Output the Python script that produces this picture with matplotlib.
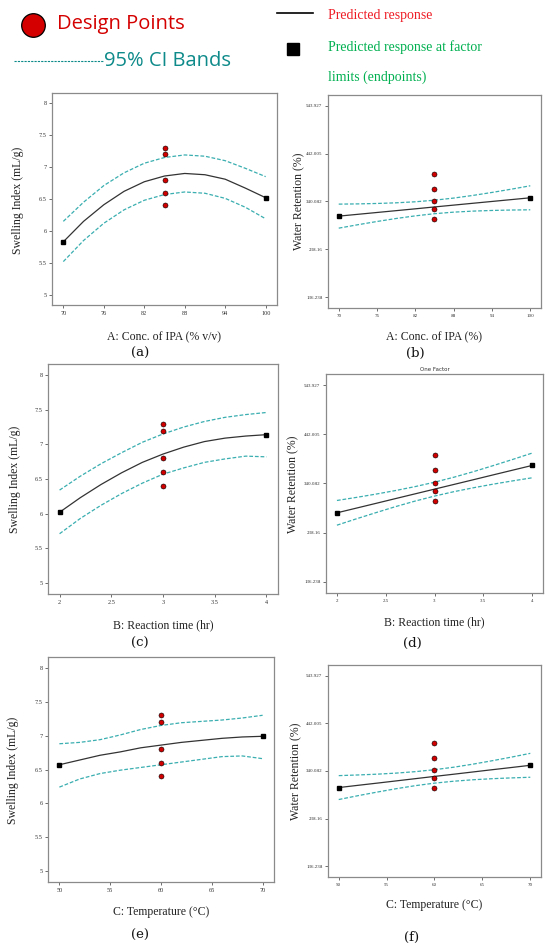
import matplotlib
matplotlib.use("Agg")
import matplotlib.pyplot as plt
from matplotlib.lines import Line2D

W, H = 550, 950

# ---- datos ----
x_ipa = [70, 73, 76, 79, 82, 85, 88, 91, 94, 97, 100]
x_time = [2.0, 2.2, 2.4, 2.6, 2.8, 3.0, 3.2, 3.4, 3.6, 3.8, 4.0]
x_temp = [50, 52, 54, 56, 58, 60, 62, 64, 66, 68, 70]

# Swelling index (mL/g)
sw_ipa_pred = [5.83, 6.15, 6.41, 6.62, 6.77, 6.86, 6.90, 6.88, 6.81, 6.67, 6.52]
sw_ipa_up = [6.15, 6.45, 6.71, 6.91, 7.06, 7.15, 7.19, 7.17, 7.10, 6.98, 6.85]
sw_ipa_lo = [5.52, 5.85, 6.12, 6.33, 6.48, 6.57, 6.61, 6.59, 6.51, 6.37, 6.19]

sw_time_pred = [6.02, 6.23, 6.42, 6.59, 6.74, 6.86, 6.96, 7.04, 7.09, 7.12, 7.14]
sw_time_up = [6.34, 6.54, 6.72, 6.88, 7.03, 7.15, 7.25, 7.33, 7.39, 7.43, 7.46]
sw_time_lo = [5.71, 5.93, 6.12, 6.29, 6.44, 6.57, 6.66, 6.74, 6.79, 6.83, 6.82]

sw_temp_pred = [6.57, 6.64, 6.71, 6.76, 6.82, 6.86, 6.90, 6.93, 6.96, 6.98, 6.99]
sw_temp_up = [6.88, 6.90, 6.94, 7.01, 7.09, 7.15, 7.19, 7.21, 7.23, 7.26, 7.30]
sw_temp_lo = [6.24, 6.36, 6.44, 6.49, 6.53, 6.57, 6.61, 6.65, 6.69, 6.70, 6.66]

sw_design = [7.3, 7.2, 6.8, 6.6, 6.4]

# Water retention (%)
wr_ipa_pred = [308.8, 312.7, 316.6, 320.5, 324.4, 328.4, 332.3, 336.2, 340.1, 344.0, 347.9]
wr_ipa_up = [334.4, 334.9, 335.8, 337.2, 339.4, 342.8, 347.3, 352.9, 359.3, 366.2, 373.5]
wr_ipa_lo = [283.2, 290.5, 297.4, 303.8, 309.4, 314.0, 317.3, 319.5, 320.9, 321.8, 322.3]

wr_time_pred = [279.2, 289.0, 298.8, 308.7, 318.5, 328.3, 338.1, 347.9, 357.8, 367.6, 377.4]
wr_time_up = [304.8, 311.2, 318.0, 325.4, 333.5, 342.7, 353.1, 364.6, 377.0, 389.8, 403.0]
wr_time_lo = [253.6, 266.8, 279.6, 292.0, 303.5, 313.9, 323.1, 331.2, 338.6, 345.4, 351.8]

wr_temp_pred = [304.5, 309.3, 314.0, 318.8, 323.6, 328.4, 333.1, 337.9, 342.7, 347.4, 352.2]
wr_temp_up = [330.1, 331.5, 333.2, 335.5, 338.6, 342.8, 348.1, 354.6, 361.9, 369.6, 377.8]
wr_temp_lo = [278.9, 287.1, 294.8, 302.1, 308.6, 314.0, 318.1, 321.2, 323.5, 325.2, 326.6]

wr_design = [399.5, 367.5, 342.0, 325.0, 303.5]

center = {"ipa": 85, "time": 3.0, "temp": 60}

sw_ticks = [5, 5.5, 6, 6.5, 7, 7.5, 8]
sw_ticklabels = ["5", "5.5", "6", "6.5", "7", "7.5", "8"]
wr_ticks = [136.238, 238.16, 340.082, 442.005, 543.927]
wr_ticklabels = ["136.238", "238.16", "340.082", "442.005", "543.927"]

xt_ipa = [70, 76, 82, 88, 94, 100]
xt_time = [2, 2.5, 3, 3.5, 4]
xt_temp = [50, 55, 60, 65, 70]

SERIF = "Liberation Serif"
TEAL = "#3aaeb0"
RED = "#d00000"
GRAY = "#8a8a8a"

fig = plt.figure(figsize=(W / 100, H / 100), dpi=100)


def caja(l, t, r, b):
    return fig.add_axes([l / W, 1 - b / H, (r - l) / W, (b - t) / H])


def panel(box, x, pred, up, lo, xc, design, xticks, yticks, ylabels, ylim, tsize):
    ax = caja(*box)
    ax.plot(x, up, ls=(0, (3, 1.5)), color=TEAL, lw=0.9)
    ax.plot(x, lo, ls=(0, (3, 1.5)), color=TEAL, lw=0.9)
    ax.plot(x, pred, color="#333333", lw=0.9)
    ax.plot([x[0], x[-1]], [pred[0], pred[-1]], "s", color="black", ms=3.2, ls="none")
    ax.plot([xc] * len(design), design, "o", mfc=RED, mec="black", mew=0.4, ms=3.6, ls="none")
    pad = (x[-1] - x[0]) * 0.056
    ax.set_xlim(x[0] - pad, x[-1] + pad)
    ax.set_ylim(*ylim)
    ax.set_xticks(xticks)
    ax.set_xticklabels([f"{v:g}" for v in xticks])
    ax.set_yticks(yticks)
    ax.set_yticklabels(ylabels)
    for s in ax.spines.values():
        s.set_color(GRAY)
        s.set_linewidth(0.9)
    ax.tick_params(direction="out", length=2.5, width=0.6, color="#555555",
                   labelsize=tsize, pad=1.5)
    for lab in ax.get_xticklabels() + ax.get_yticklabels():
        lab.set_fontfamily(SERIF)
        lab.set_color("#333333")
    return ax


sw_lim = (4.84, 8.16)
wr_lim = (113, 567)

panel((52, 93, 277, 305), x_ipa, sw_ipa_pred, sw_ipa_up, sw_ipa_lo, center["ipa"],
      sw_design, xt_ipa, sw_ticks, sw_ticklabels, sw_lim, 4.5)
panel((328, 95, 541, 308), x_ipa, wr_ipa_pred, wr_ipa_up, wr_ipa_lo, center["ipa"],
      wr_design, xt_ipa, wr_ticks, wr_ticklabels, wr_lim, 3.6)
panel((48, 364, 278, 594), x_time, sw_time_pred, sw_time_up, sw_time_lo, center["time"],
      sw_design, xt_time, sw_ticks, sw_ticklabels, sw_lim, 4.5)
axd = panel((326, 374, 543, 593), x_time, wr_time_pred, wr_time_up, wr_time_lo, center["time"],
            wr_design, xt_time, wr_ticks, wr_ticklabels, wr_lim, 3.6)
panel((48, 657, 274, 882), x_temp, sw_temp_pred, sw_temp_up, sw_temp_lo, center["temp"],
      sw_design, xt_temp, sw_ticks, sw_ticklabels, sw_lim, 4.5)
panel((328, 665, 541, 877), x_temp, wr_temp_pred, wr_temp_up, wr_temp_lo, center["temp"],
      wr_design, xt_temp, wr_ticks, wr_ticklabels, wr_lim, 3.6)

axd.set_title("One Factor", fontsize=4, pad=2, color="#333333")


def texto(x, y, s, **kw):
    fig.text(x / W, 1 - y / H, s, **kw)


# etiquetas de ejes y letras
lab = dict(fontfamily=SERIF, fontsize=8.5, color="#222222", ha="center", va="center")
texto(18, 200, "Swelling Index (mL/g)", rotation=90, **lab)
texto(15, 479, "Swelling Index (mL/g)", rotation=90, **lab)
texto(13, 770, "Swelling Index (mL/g)", rotation=90, **lab)
texto(299, 201, "Water Retention (%)", rotation=90, **lab)
texto(293, 484, "Water Retention (%)", rotation=90, **lab)
texto(296, 771, "Water Retention (%)", rotation=90, **lab)

texto(164, 337, "A: Conc. of IPA (% v/v)", **lab)
texto(434, 337, "A: Conc. of IPA (%)", **lab)
texto(163, 625, "B: Reaction time (hr)", **lab)
texto(434, 622, "B: Reaction time (hr)", **lab)
texto(161, 912, "C: Temperature (°C)", **lab)
texto(434, 905, "C: Temperature (°C)", **lab)

let = dict(fontfamily="DejaVu Serif", fontsize=9.5, color="#111111", ha="center", va="center")
texto(140, 353, "(a)", **let)
texto(415, 353, "(b)", **let)
texto(140, 643, "(c)", **let)
texto(412, 643, "(d)", **let)
texto(140, 935, "(e)", **let)
texto(412, 937, "(f)", **let)

# leyenda superior
fig.add_artist(Line2D([33 / W], [1 - 25 / H], marker="o", ms=17, mfc="#d40000",
                      mec="black", mew=0.9, ls="none"))
texto(57, 24, "Design Points", fontfamily="Open Sans", fontsize=14.5, color="#d40000",
      va="center")
fig.add_artist(Line2D([14 / W, 104 / W], [1 - 61 / H] * 2, color="#0e8a8a",
                      lw=0.8, ls=(0, (2, 1))))
texto(104, 61, "95% CI Bands", fontfamily="Open Sans", fontsize=14.5, color="#0e8a8a",
      va="center")
fig.add_artist(Line2D([277 / W, 313 / W], [1 - 13 / H] * 2, color="black", lw=1.2))
fig.add_artist(Line2D([293 / W], [1 - 49 / H], marker="s", ms=8.5, color="black", ls="none"))
leg = dict(fontfamily=SERIF, fontsize=10, va="center")
texto(328, 15, "Predicted response", color="#ee1c25", **leg)
texto(328, 47, "Predicted response at factor", color="#00b050", **leg)
texto(328, 77, "limits (endpoints)", color="#00b050", **leg)

fig.savefig("out.png", dpi=100)
